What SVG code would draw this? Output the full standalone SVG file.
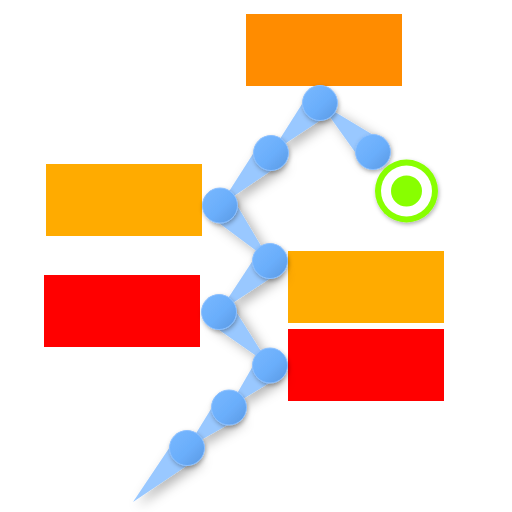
<svg xmlns="http://www.w3.org/2000/svg" width="512" height="512" viewBox="0 0 512 512">
  <style>
    .wedge { fill: #99c8ff; }
    .ball { fill: url(#ballGrad); stroke: #8cc0ff; stroke-width: 1; }
  </style>
  <defs>
    <linearGradient id="ballGrad" x1="0" y1="0" x2="1" y2="1">
      <stop offset="0" stop-color="#78b8ff"/>
      <stop offset="0.55" stop-color="#6aaefb"/>
      <stop offset="1" stop-color="#5a98e2"/>
    </linearGradient>
    <filter id="shadow" x="-30%" y="-30%" width="160%" height="160%">
      <feDropShadow dx="5" dy="4" stdDeviation="6" flood-color="#000" flood-opacity="0.3"/>
    </filter>
    <filter id="shadow2" x="-30%" y="-30%" width="160%" height="160%">
      <feDropShadow dx="1" dy="2" stdDeviation="2" flood-color="#000" flood-opacity="0.3"/>
    </filter>
  </defs>
  <rect width="512" height="512" fill="#ffffff"/>

  <g id="box-top"><rect x="246" y="14" width="156" height="72" fill="#ff8c00"/></g>
  <g id="box-left-1"><rect x="46" y="164" width="156" height="72" fill="#ffab00"/></g>
  <g id="box-left-2"><rect x="44" y="275" width="156" height="72" fill="#ff0000"/></g>
  <g id="box-right-1"><rect x="288" y="251" width="156" height="72" fill="#ffab00"/></g>
  <g id="box-right-2"><rect x="288" y="329" width="156" height="72" fill="#ff0000"/></g>

  <g id="connectors" filter="url(#shadow)">
    <polygon class="wedge" points="0,0 76.4,-15 76.4,15" transform="translate(133,502) rotate(-45)"/>
    <polygon class="wedge" points="0,0 58.3,-15 58.3,15" transform="translate(187,448) rotate(-43.96)"/>
    <polygon class="wedge" points="0,0 58.7,-15 58.7,15" transform="translate(229,407.5) rotate(-45.69)"/>
    <polygon class="wedge" points="0,0 73.9,-15 73.9,15" transform="translate(270,365.5) rotate(-133.64)"/>
    <polygon class="wedge" points="0,0 72.1,-15 72.1,15" transform="translate(219,312) rotate(-45)"/>
    <polygon class="wedge" points="0,0 74.7,-15 74.7,15" transform="translate(270,261) rotate(-132)"/>
    <polygon class="wedge" points="0,0 73.2,-15 73.2,15" transform="translate(220,205.5) rotate(-45.83)"/>
    <polygon class="wedge" points="0,0 70,-15 70,15" transform="translate(271,153) rotate(-45.58)"/>
    <polygon class="wedge" points="0,0 72.2,-15 72.2,15" transform="translate(320,103) rotate(42.75)"/>
  </g>

  <g id="nodes" filter="url(#shadow2)">
    <g id="n1"><circle class="ball" cx="187" cy="448" r="17.5"/></g>
    <g id="n2"><circle class="ball" cx="229" cy="407.5" r="17.5"/></g>
    <g id="n3"><circle class="ball" cx="270" cy="365.5" r="17.5"/></g>
    <g id="n4"><circle class="ball" cx="219" cy="312" r="17.5"/></g>
    <g id="n5"><circle class="ball" cx="270" cy="261" r="17.5"/></g>
    <g id="n6"><circle class="ball" cx="220" cy="205.5" r="17.5"/></g>
    <g id="n7"><circle class="ball" cx="271" cy="153" r="17.5"/></g>
    <g id="n8"><circle class="ball" cx="320" cy="103" r="17.5"/></g>
    <g id="n9"><circle class="ball" cx="373" cy="152" r="17.5"/></g>
  </g>

  <g id="target" filter="url(#shadow2)">
    <circle cx="406.5" cy="191" r="31.5" fill="#88ff00"/>
    <circle cx="406.5" cy="191" r="25.5" fill="#ffffff"/>
    <circle cx="406.5" cy="191" r="15.5" fill="#88ff00"/>
  </g>
</svg>
